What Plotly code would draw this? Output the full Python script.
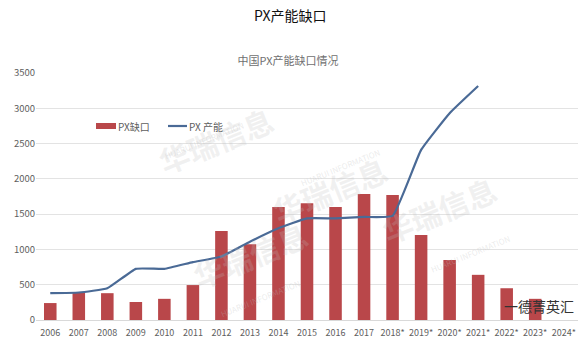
import plotly.graph_objects as go

# 中国PX产能缺口情况 (万吨)
years = ["2006", "2007", "2008", "2009", "2010", "2011", "2012", "2013", "2014",
         "2015", "2016", "2017", "2018*", "2019*", "2020*", "2021*", "2022*",
         "2023*", "2024*"]
px_gap = [240, 395, 380, 255, 300, 495, 1260, 1075, 1600,
          1655, 1600, 1785, 1770, 1205, 850, 640, 450, 300, None]
px_capacity = [380, 390, 450, 725, 725, 820, 900, 1110, 1300,
               1440, 1440, 1460, 1475, 2410, 2930, 3315, None, None, None]

BAR_RED = "#B9474A"
LINE_BLUE = "#4A6A96"
TICK_GRAY = "#5E5E5E"
FONT = "Noto Sans CJK SC, Microsoft YaHei, sans-serif"

W, H = 588, 341
ML, MR, MT, MB = 36, 10, 73, 21
PW, PH = W - ML - MR, H - MT - MB


def px_x(x):
    return (x - ML) / PW


def px_y(y):
    return (H - MB - y) / PH


fig = go.Figure()
fig.add_trace(go.Bar(
    x=years, y=px_gap, name="PX缺口", showlegend=False,
    marker=dict(color=BAR_RED, line=dict(width=0)),
))
fig.add_trace(go.Scatter(
    x=years, y=px_capacity, name="PX 产能", mode="lines", showlegend=False,
    line=dict(color=LINE_BLUE, width=2.2, shape="spline", smoothing=0.35),
    connectgaps=False,
))

# legend drawn as swatches + labels
fig.add_shape(type="rect", xref="paper", yref="paper",
              x0=px_x(96), x1=px_x(116), y0=px_y(129), y1=px_y(123),
              fillcolor=BAR_RED, line=dict(width=0))
fig.add_annotation(xref="paper", yref="paper", x=px_x(116), y=px_y(126),
                   xanchor="left", yanchor="middle", text="PX缺口", showarrow=False,
                   font=dict(size=10, color=TICK_GRAY, family=FONT))
fig.add_shape(type="line", xref="paper", yref="paper",
              x0=px_x(168), x1=px_x(187), y0=px_y(126), y1=px_y(126),
              line=dict(color=LINE_BLUE, width=2.2))
fig.add_annotation(xref="paper", yref="paper", x=px_x(187), y=px_y(126),
                   xanchor="left", yanchor="middle", text="PX 产能", showarrow=False,
                   font=dict(size=10, color=TICK_GRAY, family=FONT))

# faint watermark text
marks = [(150, 95), (330, 145), (505, 255), (250, 300)]
for mx, my in marks:
    fig.add_annotation(
        xref="paper", yref="paper", x=px_x(mx), y=px_y(my), text="<b>华瑞信息</b>",
        showarrow=False, textangle=-22,
        font=dict(size=30, color="rgba(190,190,190,0.22)", family=FONT),
    )
    fig.add_annotation(
        xref="paper", yref="paper", x=px_x(mx + 10), y=px_y(my + 22), text="HUARUI INFORMATION",
        showarrow=False, textangle=-22,
        font=dict(size=8, color="rgba(190,190,190,0.3)", family=FONT),
    )

# page heading
fig.add_annotation(
    xref="paper", yref="paper", x=px_x(290), y=px_y(15), yanchor="middle",
    text="PX产能缺口", showarrow=False,
    font=dict(size=14, color="#111111", family=FONT),
)
# account name
fig.add_annotation(
    xref="paper", yref="paper", x=px_x(539), y=0.01, xanchor="center", yanchor="bottom",
    text="一德菁英汇", showarrow=False,
    font=dict(size=14, color="#333333", family=FONT),
)

fig.update_layout(
    width=W, height=H,
    margin=dict(l=ML, r=MR, t=MT, b=MB),
    paper_bgcolor="white", plot_bgcolor="white",
    font=dict(family=FONT, color=TICK_GRAY),
    title=dict(
        text="中国PX产能缺口情况", x=288 / W, xanchor="center",
        y=1 - 61 / H, yanchor="middle",
        font=dict(size=11, color="#707070", family=FONT),
    ),
    bargap=0.56,
    showlegend=False,
    xaxis=dict(
        type="category", showgrid=False, showline=True, linecolor="#D9D9D9",
        ticks="", ticklabelstandoff=4, automargin=False,
        tickfont=dict(size=9, color=TICK_GRAY),
    ),
    yaxis=dict(
        range=[0, 3500], dtick=500, showgrid=True, gridcolor="#E3E3E3", gridwidth=1,
        zeroline=False, tickfont=dict(size=9.5, color=TICK_GRAY), ticks="",
        showline=False, automargin=False,
    ),
)

fig.write_html("out.html")
